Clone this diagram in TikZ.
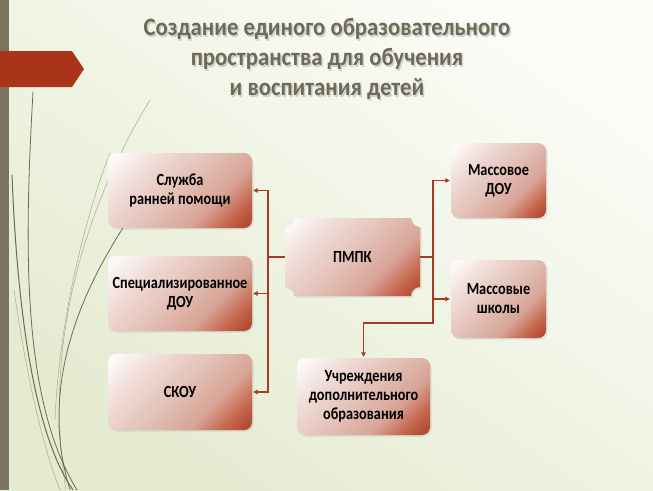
\documentclass[tikz,border=0pt]{standalone}
\usepackage{fontspec}
\setmainfont{Carlito}
\newfontfamily\boxfont[FakeStretch=0.84]{Carlito}
\newfontfamily\titlefont[FakeStretch=0.91]{Carlito}
\usetikzlibrary{arrows.meta,shadows,calc}
\definecolor{barc}{HTML}{7A7460}
\definecolor{tabc}{HTML}{A93419}
\definecolor{linc}{HTML}{A83A22}
\definecolor{sA}{HTML}{C4654C}
\definecolor{sB}{HTML}{D8A496}
\definecolor{sC}{HTML}{E2BFB6}
\definecolor{sD}{HTML}{F0DCD7}
\definecolor{bdark}{HTML}{B0412A}
\definecolor{ttl}{HTML}{6E6A57}
\definecolor{bgA}{HTML}{FBFCF7}
\definecolor{bgB}{HTML}{E4EBD0}
\definecolor{deco}{HTML}{6F6A50}
\definecolor{decol}{HTML}{A9AA92}
\pgfdeclareverticalshading{boxsh}{100bp}{color(0bp)=(bdark); color(15bp)=(bdark); color(24bp)=(sA); color(35bp)=(sB); color(50bp)=(sC); color(68bp)=(sD); color(85bp)=(white); color(100bp)=(white)}
\begin{document}
\begin{tikzpicture}[x=1pt,y=-1pt,
  boxshade/.style={shading=boxsh, shading angle=45},
  boxshadow/.style={drop shadow={opacity=0.18, shadow xshift=1.5pt, shadow yshift=-1.5pt}},
  boxtext/.style={align=center, font=\boxfont\fontsize{17}{19}\selectfont\bfseries, text=black},
  box/.style={boxtext, shade, boxshade, boxshadow, rounded corners=8pt, inner sep=2pt},
  conn/.style={draw=linc, line width=1.3pt},
  arr/.style={conn, -{Triangle[length=4.5pt,width=4.5pt]}, shorten >=1pt},
  decoline/.style={draw=deco, line width=0.8pt},
  decolight/.style={draw=decol, line width=0.5pt},
  ttlfont/.style={align=center, font=\titlefont\fontsize{25}{30}\selectfont\bfseries}
]
\useasboundingbox (0,0) rectangle (653,490);
% background
\shade[top color=bgA, bottom color=bgB, shading angle=-35] (0,0) rectangle (653,490);
% decorative curves
\draw[decolight] (150,100) .. controls (95,190) and (40,330) .. (66,490);
\draw[decoline] (123,228) .. controls (70,310) and (42,400) .. (70,490);
\draw[decoline] (33,92) .. controls (24,250) and (22,400) .. (77,490);
\draw[decoline, line width=1pt] (12,175) .. controls (18,330) and (38,440) .. (73,490);
\draw[decolight] (14,290) .. controls (30,400) and (48,460) .. (60,490);
\draw[decolight] (110,153) .. controls (95,190) and (60,300) .. (55,420);
% left bar and tab
\fill[barc] (0,0) rectangle (9,490);
\fill[tabc] (0,51) -- (72,51) -- (84,69) -- (72,87) -- (0,87) -- cycle;
% title
\node[ttlfont, text=black!25, opacity=0.7] (titleshadow) at (328.5,60.5)
  {Создание единого образовательного\\пространства для обучения\\и воспитания детей};
\node[ttlfont, text=ttl] (title) at (327,59)
  {Создание единого образовательного\\пространства для обучения\\и воспитания детей};
% left boxes
\node[box, minimum width=144pt, minimum height=75pt] (s1) at (180,190.5) {Служба\\ранней помощи};
\node[box, minimum width=144pt, minimum height=75pt] (s2) at (180,293.5) {Специализированное\\ДОУ};
\node[box, minimum width=144pt, minimum height=76pt] (s3) at (180,392) {СКОУ};
% right boxes
\node[box, minimum width=95pt, minimum height=75pt] (m1) at (498.5,180.5) {Массовое\\ДОУ};
\node[box, minimum width=95pt, minimum height=78pt] (m2) at (498.5,299) {Массовые\\школы};
\node[box, minimum width=133pt, minimum height=77pt] (u) at (363.5,396.5) {Учреждения\\дополнительного\\образования};
% central plaque
\shade[boxshade, boxshadow] (294,218) -- (411,218) arc[start angle=180,end angle=90,radius=9]
  -- (420,287) arc[start angle=270,end angle=180,radius=9]
  -- (294,296) arc[start angle=0,end angle=-90,radius=9]
  -- (285,227) arc[start angle=90,end angle=0,radius=9] -- cycle;
\node[boxtext, minimum width=135pt, minimum height=78pt, inner sep=0pt] (pmpk) at (352.5,257) {ПМПК};
% connectors
\coordinate (L) at (268,257);
\coordinate (R) at (433,257);
\coordinate (Rb) at (433,323);
\draw[conn] (pmpk.west) -- (L);
\draw[conn] (pmpk.east) -- (R);
\draw[arr] (L) |- (s1.east);
\draw[arr] (L) |- (s2.east);
\draw[arr] (L) |- (s3.east);
\draw[arr] (R) |- (m1.west);
\draw[arr] (R) |- (m2.west);
\draw[arr] (R) -- (Rb) -| (u.north);
\end{tikzpicture}
\end{document}
